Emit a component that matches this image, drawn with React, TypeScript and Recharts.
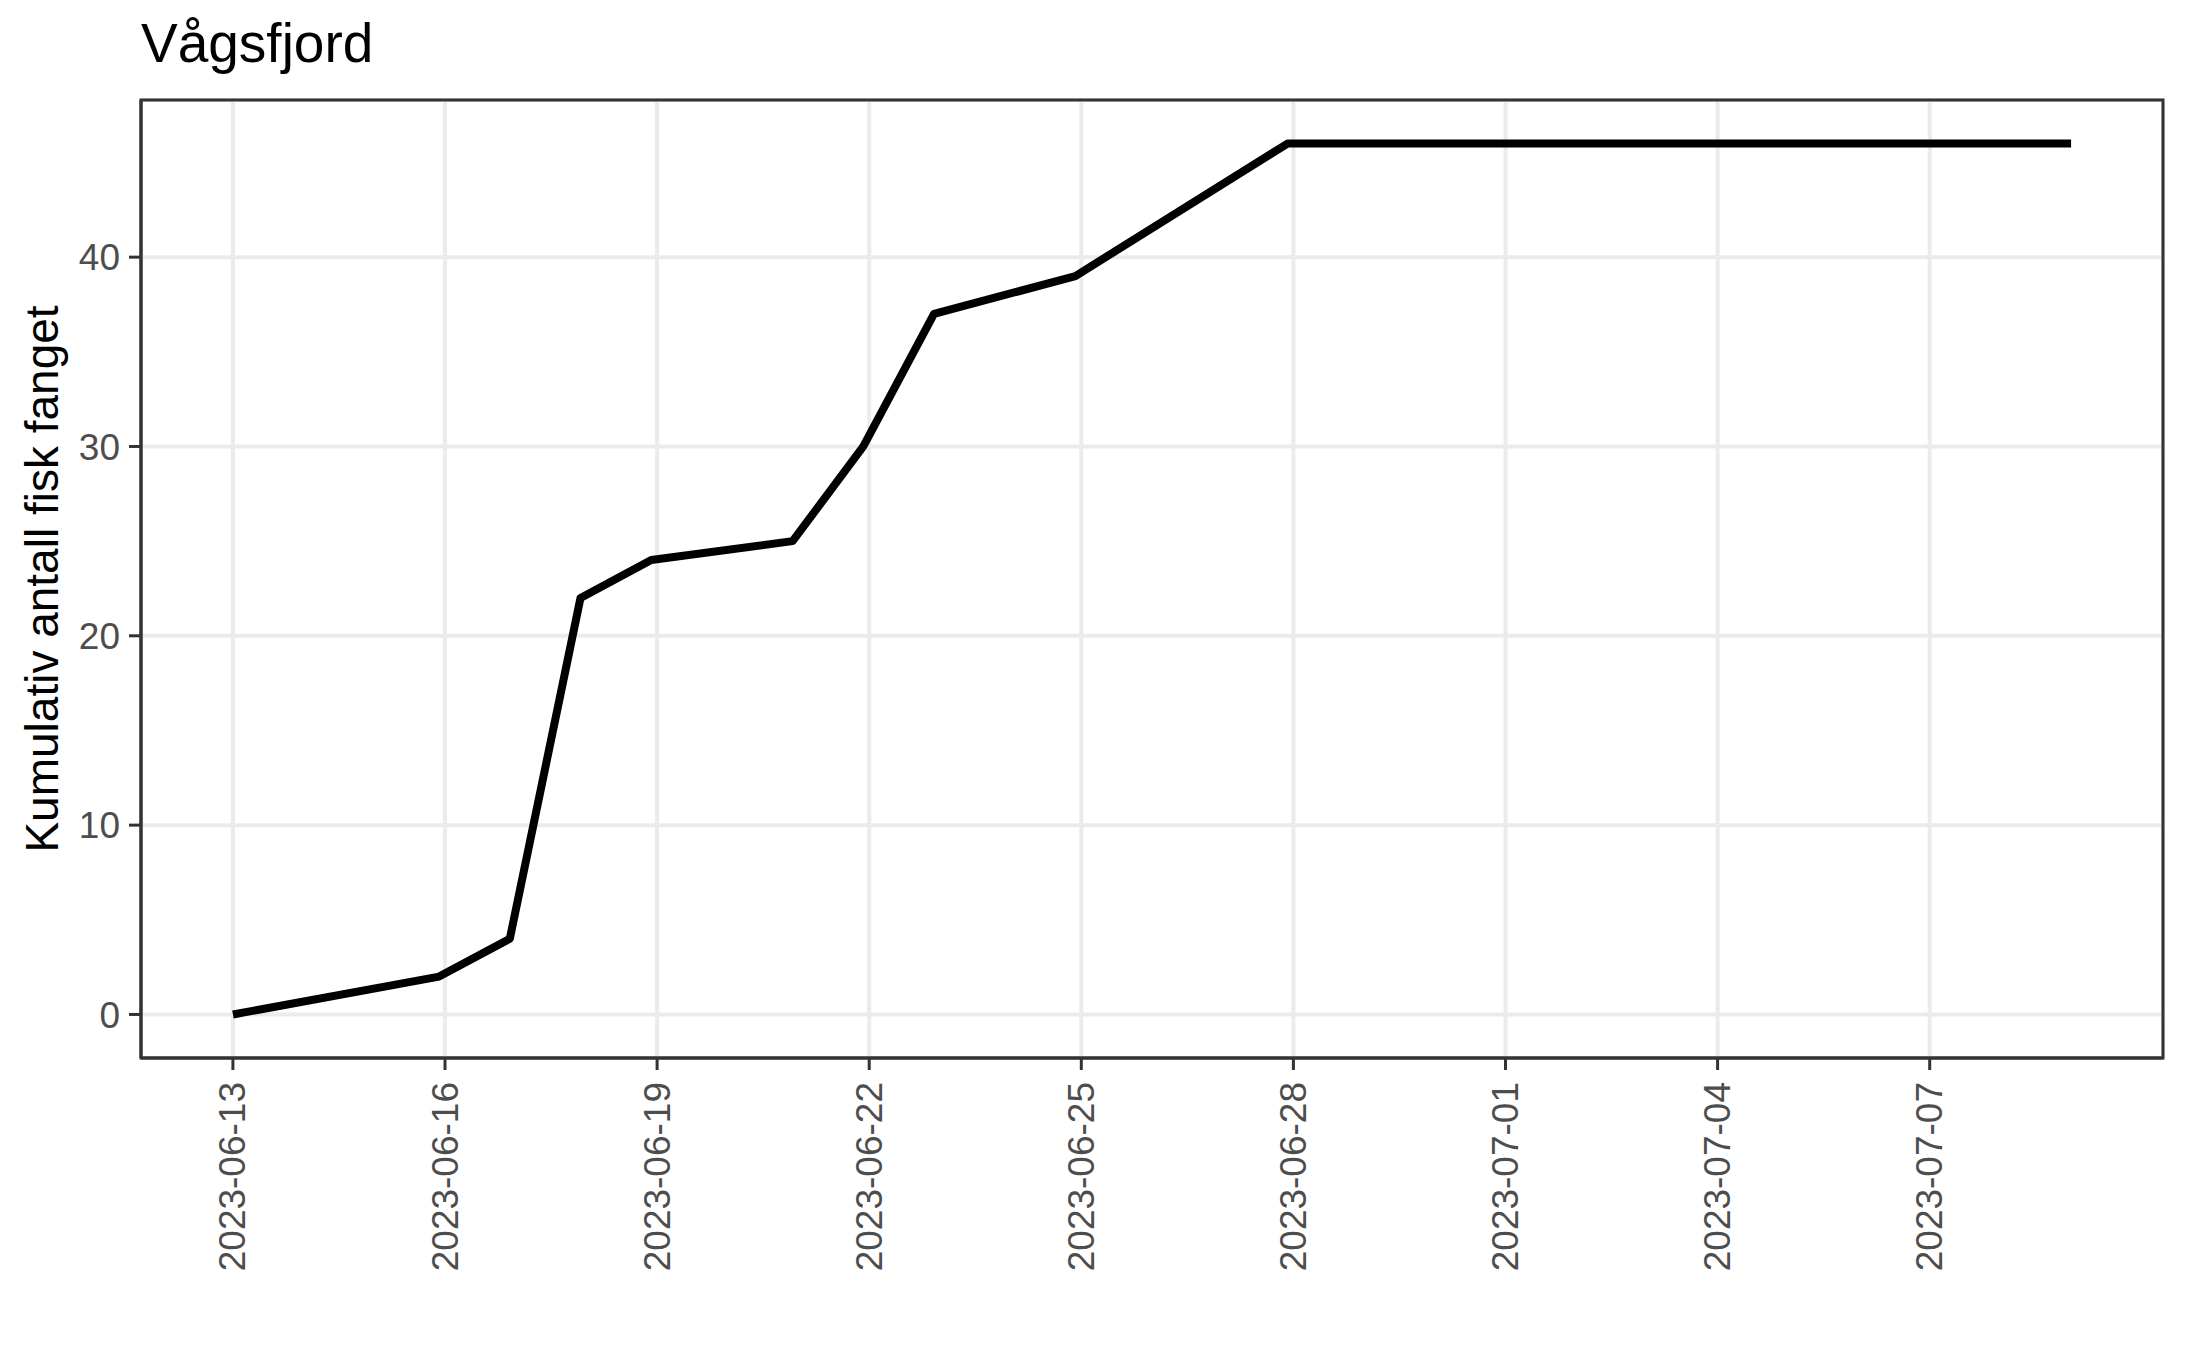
import React from 'react';
import {
  LineChart,
  Line,
  XAxis,
  YAxis,
  CartesianGrid,
  ReferenceArea,
} from 'recharts';

// Observation times (catch days logged at local midnight, CEST) and cumulative catch
const TIMES = [
  '2023-06-13T00:00:00Z',
  '2023-06-16T00:00:00+02:00',
  '2023-06-17T00:00:00+02:00',
  '2023-06-18T00:00:00+02:00',
  '2023-06-19T00:00:00+02:00',
  '2023-06-21T00:00:00+02:00',
  '2023-06-22T00:00:00+02:00',
  '2023-06-23T00:00:00+02:00',
  '2023-06-25T00:00:00+02:00',
  '2023-06-28T00:00:00+02:00',
  '2023-07-09T00:00:00Z',
];
const CUMULATIVE = [0, 2, 4, 22, 24, 25, 30, 37, 39, 46, 46];

const X_TICK_DATES = [
  '2023-06-13',
  '2023-06-16',
  '2023-06-19',
  '2023-06-22',
  '2023-06-25',
  '2023-06-28',
  '2023-07-01',
  '2023-07-04',
  '2023-07-07',
];
const Y_TICKS = [0, 10, 20, 30, 40];

const TITLE = 'Vågsfjord';
const Y_LABEL = 'Kumulativ antall fisk fanget';

const FONT = '"Liberation Sans", Arial, sans-serif';
const DAY_MS = 24 * 3600 * 1000;
const START = Date.parse(TIMES[0]);

const toDay = (t: string) => (Date.parse(t) - START) / DAY_MS;
const fromDay = (n: number) => new Date(START + Math.round(n) * DAY_MS).toISOString().slice(0, 10);

const data = TIMES.map((t, i) => ({ day: toDay(t), value: CUMULATIVE[i] }));
const xTicks = X_TICK_DATES.map((d) => toDay(d + 'T00:00:00Z'));

const lastDay = data[data.length - 1].day;
const xPad = lastDay * 0.05;
const yMax = Math.max(...CUMULATIVE);
const yPad = yMax * 0.05;
const X_DOMAIN: [number, number] = [-xPad, lastDay + xPad];
const Y_DOMAIN: [number, number] = [-yPad, yMax + yPad];

const RotatedTick = (props: any) => {
  const { x, y, payload } = props;
  return (
    <text
      x={x}
      y={y}
      transform={`rotate(-90, ${x}, ${y})`}
      textAnchor="end"
      dominantBaseline="central"
      fill="#4D4D4D"
      fontSize={37}
      fontFamily={FONT}
    >
      {fromDay(payload.value)}
    </text>
  );
};

export default function App() {
  return (
    <div
      style={{
        position: 'absolute',
        left: 0,
        top: 0,
        width: 2187,
        height: 1350,
        background: '#FFFFFF',
        fontFamily: FONT,
      }}
    >
      <div
        style={{
          position: 'absolute',
          left: 141,
          top: 16,
          fontSize: 55,
          lineHeight: '55px',
          color: '#000000',
          whiteSpace: 'nowrap',
        }}
      >
        {TITLE}
      </div>
      <div
        style={{
          position: 'absolute',
          left: 42,
          top: 579,
          fontSize: 46,
          lineHeight: '46px',
          color: '#000000',
          whiteSpace: 'nowrap',
          transform: 'translate(-50%, -50%) rotate(-90deg)',
        }}
      >
        {Y_LABEL}
      </div>
      <LineChart
        width={2187}
        height={1350}
        data={data}
        margin={{ top: 100, right: 24, left: 0, bottom: 0 }}
        style={{ position: 'absolute', left: 0, top: 0 }}
      >
        <CartesianGrid stroke="#EBEBEB" strokeWidth={4} />
        <XAxis
          dataKey="day"
          type="number"
          domain={X_DOMAIN}
          ticks={xTicks}
          allowDataOverflow
          height={292}
          tickSize={12}
          tickMargin={12}
          axisLine={{ stroke: '#333333', strokeWidth: 3 }}
          tickLine={{ stroke: '#333333', strokeWidth: 3 }}
          tick={<RotatedTick />}
          interval={0}
        />
        <YAxis
          type="number"
          domain={Y_DOMAIN}
          ticks={Y_TICKS}
          allowDataOverflow
          width={141}
          tickSize={12}
          tickMargin={9}
          axisLine={{ stroke: '#333333', strokeWidth: 3 }}
          tickLine={{ stroke: '#333333', strokeWidth: 3 }}
          tick={{ fill: '#4D4D4D', fontSize: 37, fontFamily: FONT }}
          interval={0}
        />
        <Line
          type="linear"
          dataKey="value"
          stroke="#000000"
          strokeWidth={8}
          strokeLinejoin="round"
          dot={false}
          activeDot={false}
          isAnimationActive={false}
        />
        <ReferenceArea
          x1={X_DOMAIN[0]}
          x2={X_DOMAIN[1]}
          y1={Y_DOMAIN[0]}
          y2={Y_DOMAIN[1]}
          fill="none"
          fillOpacity={0}
          stroke="#333333"
          strokeWidth={3}
        />
      </LineChart>
    </div>
  );
}
